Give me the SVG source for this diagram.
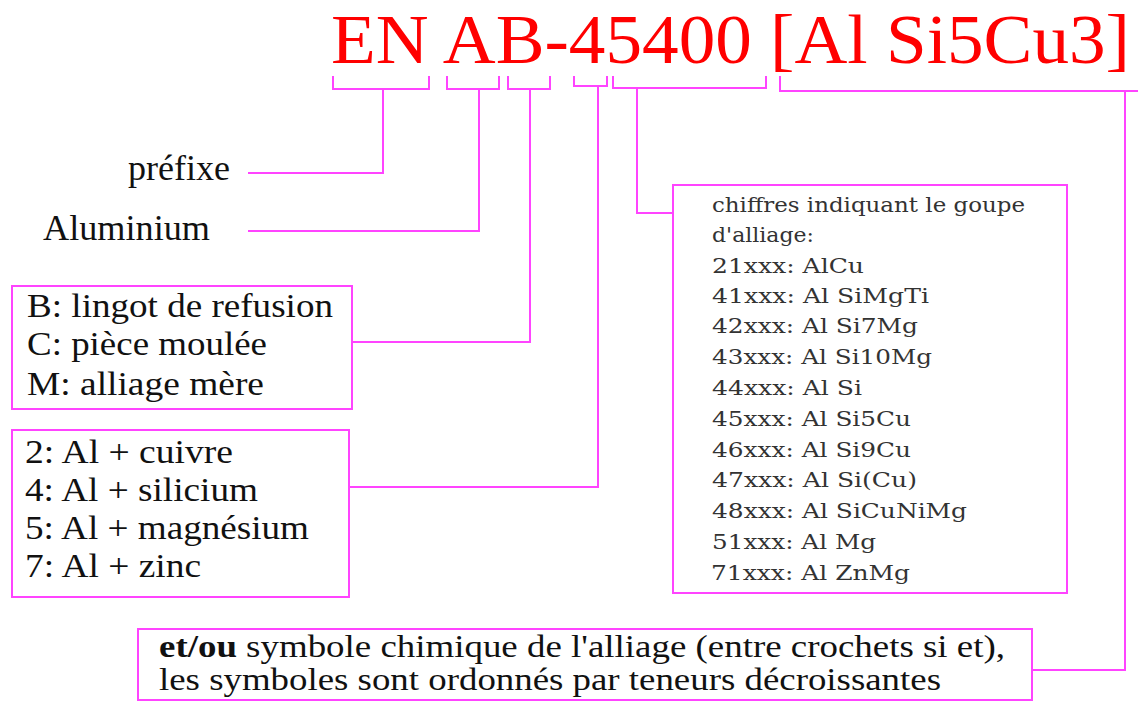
<svg xmlns="http://www.w3.org/2000/svg" width="1138" height="702" viewBox="0 0 1138 702">
<style>
.title{font-family:"Liberation Serif","Times New Roman",serif;font-size:70px;fill:#ff0000}
.lbl{font-family:"Liberation Serif","Times New Roman",serif;font-size:35px;fill:#111}
.blbl{font-family:"Liberation Serif","Times New Roman",serif;font-size:34px;fill:#111}
.bot{font-family:"Liberation Serif","Times New Roman",serif;font-size:31px;fill:#111}
.small{font-family:"DejaVu Serif","Liberation Serif",serif;font-size:21px;fill:#333}
.box{fill:#fff;stroke:#ff44ff;stroke-width:2}
.con{fill:none;stroke:#ff44ff;stroke-width:2}
</style>
<rect width="1138" height="702" fill="#fff"/>
<g id="title">
<text class="title" x="331" y="63" textLength="799" lengthAdjust="spacingAndGlyphs">EN AB-45400 [Al Si5Cu3]</text>
</g>
<g id="connectors">
<path class="con" d="M333 76V89H429V76M383 89V173H248"/>
<path class="con" d="M447 76V89H499V76M479 89V231H248"/>
<path class="con" d="M508 76V89H550V76M530 89V342H352"/>
<path class="con" d="M574 76V86H607V76M598 86V487H349"/>
<path class="con" d="M613 76V88H766V76M637 88V213H673"/>
<path class="con" d="M780 76V91H1140M1125 91V670H1032"/>
</g>
<g id="prefixe">
<text class="lbl" x="128" y="180" textLength="102" lengthAdjust="spacingAndGlyphs">préfixe</text>
</g>
<g id="aluminium">
<text class="lbl" x="43" y="240" textLength="167" lengthAdjust="spacingAndGlyphs">Aluminium</text>
</g>
<g id="forme">
<rect class="box" x="12" y="286" width="340" height="123"/>
<text class="blbl" x="27" y="317" textLength="306" lengthAdjust="spacingAndGlyphs">B: lingot de refusion</text>
<text class="blbl" x="27" y="355" textLength="240" lengthAdjust="spacingAndGlyphs">C: pièce moulée</text>
<text class="blbl" x="27" y="395" textLength="237" lengthAdjust="spacingAndGlyphs">M: alliage mère</text>
</g>
<g id="element">
<rect class="box" x="12" y="430" width="337" height="167"/>
<text class="blbl" x="25" y="463" textLength="208" lengthAdjust="spacingAndGlyphs">2: Al + cuivre</text>
<text class="blbl" x="25" y="501" textLength="233" lengthAdjust="spacingAndGlyphs">4: Al + silicium</text>
<text class="blbl" x="25" y="539" textLength="284" lengthAdjust="spacingAndGlyphs">5: Al + magnésium</text>
<text class="blbl" x="25" y="577" textLength="176" lengthAdjust="spacingAndGlyphs">7: Al + zinc</text>
</g>
<g id="groupe">
<rect class="box" x="673" y="185" width="394" height="408"/>
<text class="small" x="712" y="212" textLength="313" lengthAdjust="spacingAndGlyphs">chiffres indiquant le goupe</text>
<text class="small" x="712" y="242" textLength="102" lengthAdjust="spacingAndGlyphs">d'alliage:</text>
<text class="small" x="712" y="273" textLength="152" lengthAdjust="spacingAndGlyphs">21xxx: AlCu</text>
<text class="small" x="712" y="303" textLength="217" lengthAdjust="spacingAndGlyphs">41xxx: Al SiMgTi</text>
<text class="small" x="712" y="333" textLength="206" lengthAdjust="spacingAndGlyphs">42xxx: Al Si7Mg</text>
<text class="small" x="712" y="364" textLength="220" lengthAdjust="spacingAndGlyphs">43xxx: Al Si10Mg</text>
<text class="small" x="712" y="395" textLength="150" lengthAdjust="spacingAndGlyphs">44xxx: Al Si</text>
<text class="small" x="712" y="426" textLength="199" lengthAdjust="spacingAndGlyphs">45xxx: Al Si5Cu</text>
<text class="small" x="712" y="457" textLength="199" lengthAdjust="spacingAndGlyphs">46xxx: Al Si9Cu</text>
<text class="small" x="712" y="487" textLength="205" lengthAdjust="spacingAndGlyphs">47xxx: Al Si(Cu)</text>
<text class="small" x="712" y="518" textLength="255" lengthAdjust="spacingAndGlyphs">48xxx: Al SiCuNiMg</text>
<text class="small" x="712" y="549" textLength="164" lengthAdjust="spacingAndGlyphs">51xxx: Al Mg</text>
<text class="small" x="711" y="580" textLength="199" lengthAdjust="spacingAndGlyphs">71xxx: Al ZnMg</text>
</g>
<g id="symbole">
<rect class="box" x="138" y="629" width="894" height="71"/>
<text class="bot" x="159" y="657" textLength="846" lengthAdjust="spacingAndGlyphs"><tspan font-weight="bold">et/ou</tspan> symbole chimique de l'alliage (entre crochets si et),</text>
<text class="bot" x="159" y="690" textLength="782" lengthAdjust="spacingAndGlyphs">les symboles sont ordonnés par teneurs décroissantes</text>
</g>
</svg>
